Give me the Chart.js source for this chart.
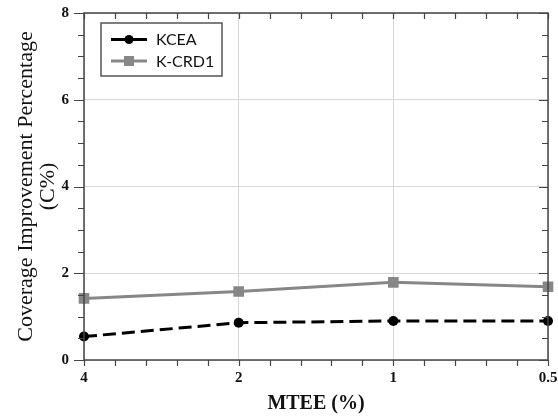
<!DOCTYPE html>
<html>
<head>
<meta charset="utf-8">
<script src="https://cdn.jsdelivr.net/npm/chart.js@4/dist/chart.umd.min.js"></script>
<style>
html,body{margin:0;padding:0;background:#fff;}
#wrap{width:558px;height:417px;position:relative;}
</style>
</head>
<body>
<div id="wrap"><canvas id="c" width="558" height="417"></canvas></div>
<script>
const categories = ['4', '2', '1', '0.5'];
const kceaValues = [0.54, 0.86, 0.90, 0.90];
const kcrdValues = [1.42, 1.58, 1.79, 1.69];
const seriesNames = ['KCEA', 'K-CRD1'];
const yTicks = [0, 2, 4, 6, 8];
const xTitle = 'MTEE (%)';
const yTitle = ['Coverage Improvement Percentage', '(C%)'];

const TARGET = { left: 84, top: 13, right: 548, bottom: 360 };
const AXIS = '#444';
let yWidth = 84, xHeight = 57;

const framePlugin = {
  id: 'frame',
  afterDatasetsDraw(chart) {
    const ctx = chart.ctx, a = chart.chartArea;
    const xs = chart.scales.x, ys = chart.scales.y;
    ctx.save();
    ctx.strokeStyle = AXIS;
    ctx.lineWidth = 1.5;
    ctx.strokeRect(a.left, a.top, a.right - a.left, a.bottom - a.top);
    ctx.lineWidth = 1.2;
    ctx.beginPath();
    for (let i = 0; i < categories.length; i++) {
      for (let k = 0; k < 5; k++) {
        const v = i + k / 5;
        if (v > categories.length - 1) break;
        const px = Math.round(xs.getPixelForValue(v)) + 0.5;
        ctx.moveTo(px, a.bottom); ctx.lineTo(px, a.bottom + 6);
        ctx.moveTo(px, a.top); ctx.lineTo(px, a.top + 6);
      }
    }
    for (let v = yTicks[0]; v <= yTicks[yTicks.length - 1] + 1e-9; v += 0.5) {
      const major = Math.abs(v / 2 - Math.round(v / 2)) < 1e-6;
      const py = Math.round(ys.getPixelForValue(v)) + 0.5;
      const L = major ? 10 : 6;
      ctx.moveTo(a.left - L, py); ctx.lineTo(a.left, py);
      ctx.moveTo(a.right, py); ctx.lineTo(a.right - (major ? 9 : 6), py);
    }
    ctx.stroke();

    const bx = 101, by = 23, bw = 121, bh = 53;
    ctx.fillStyle = '#fff';
    ctx.fillRect(bx, by, bw, bh);
    ctx.strokeStyle = '#555';
    ctx.lineWidth = 1.5;
    ctx.strokeRect(bx, by, bw, bh);
    const rows = [39.5, 61];
    chart.data.datasets.forEach((ds, i) => {
      const y = rows[i];
      ctx.strokeStyle = ds.borderColor;
      ctx.lineWidth = 3;
      ctx.setLineDash([]);
      ctx.beginPath(); ctx.moveTo(111, y); ctx.lineTo(147, y); ctx.stroke();
      ctx.fillStyle = ds.borderColor;
      if (ds.pointStyle === 'rect') {
        ctx.fillRect(129 - 5, y - 5, 10, 10);
      } else {
        ctx.beginPath(); ctx.arc(129, y, 4.5, 0, Math.PI * 2); ctx.fill();
      }
      ctx.fillStyle = '#111';
      ctx.font = '16px Lato';
      ctx.textBaseline = 'middle';
      ctx.textAlign = 'left';
      ctx.fillText(ds.label, 156, y + 0.5);
    });
    ctx.restore();
  }
};

const chart = new Chart(document.getElementById('c'), {
  type: 'line',
  data: {
    labels: categories,
    datasets: [
      {
        label: seriesNames[0],
        data: kceaValues,
        borderColor: '#000000',
        backgroundColor: '#000000',
        borderWidth: 3,
        borderDash: [13, 6],
        pointStyle: 'circle',
        pointRadius: 5,
        pointBackgroundColor: '#000000',
        pointBorderWidth: 0,
        tension: 0
      },
      {
        label: seriesNames[1],
        data: kcrdValues,
        borderColor: '#878787',
        backgroundColor: '#878787',
        borderWidth: 3,
        pointStyle: 'rect',
        pointRadius: 7.5,
        pointBackgroundColor: '#878787',
        pointBorderWidth: 0,
        tension: 0
      }
    ]
  },
  options: {
    responsive: false,
    animation: false,
    devicePixelRatio: 1,
    layout: { padding: { top: 13, right: 10, left: 0, bottom: 0 } },
    plugins: { legend: { display: false }, tooltip: { enabled: false } },
    scales: {
      x: {
        type: 'category',
        offset: false,
        afterFit(s) { s.height = xHeight; s.paddingLeft = 0; s.paddingRight = 0; },
        grid: { color: '#d8d8d8', lineWidth: 1, drawTicks: false },
        border: { display: false },
        ticks: {
          padding: 9,
          color: '#111',
          maxRotation: 0,
          autoSkip: false,
          font: { family: 'Liberation Serif', size: 15, weight: 'bold' }
        },
        title: {
          display: true,
          text: xTitle,
          color: '#111',
          padding: { top: 0, bottom: 2 },
          font: { family: 'Liberation Serif', size: 20, weight: 'bold', lineHeight: 1.1 }
        }
      },
      y: {
        min: yTicks[0],
        max: yTicks[yTicks.length - 1],
        afterFit(s) { s.width = yWidth; s.paddingTop = 0; s.paddingBottom = 0; },
        afterBuildTicks(s) { s.ticks = yTicks.map(v => ({ value: v })); },
        grid: { color: '#d8d8d8', lineWidth: 1, drawTicks: false },
        border: { display: false },
        ticks: {
          padding: 15,
          color: '#111',
          font: { family: 'Liberation Serif', size: 15, weight: 'bold' }
        },
        title: {
          display: true,
          text: yTitle,
          color: '#111',
          padding: { top: 15, bottom: 0 },
          font: { family: 'Liberation Serif', size: 22, lineHeight: 1.0 }
        }
      }
    }
  },
  plugins: [framePlugin]
});

// align the plot area with the reference frame
for (let pass = 0; pass < 3; pass++) {
  const a = chart.chartArea;
  const dTop = TARGET.top - a.top, dRight = a.right - TARGET.right;
  const dLeft = TARGET.left - a.left, dBottom = a.bottom - TARGET.bottom;
  if (Math.abs(dTop) + Math.abs(dRight) + Math.abs(dLeft) + Math.abs(dBottom) < 0.5) break;
  const p = chart.config.options.layout.padding;
  p.top += dTop;
  p.right += dRight;
  yWidth += dLeft;
  xHeight += dBottom;
  chart.update();
}
</script>
</body>
</html>
